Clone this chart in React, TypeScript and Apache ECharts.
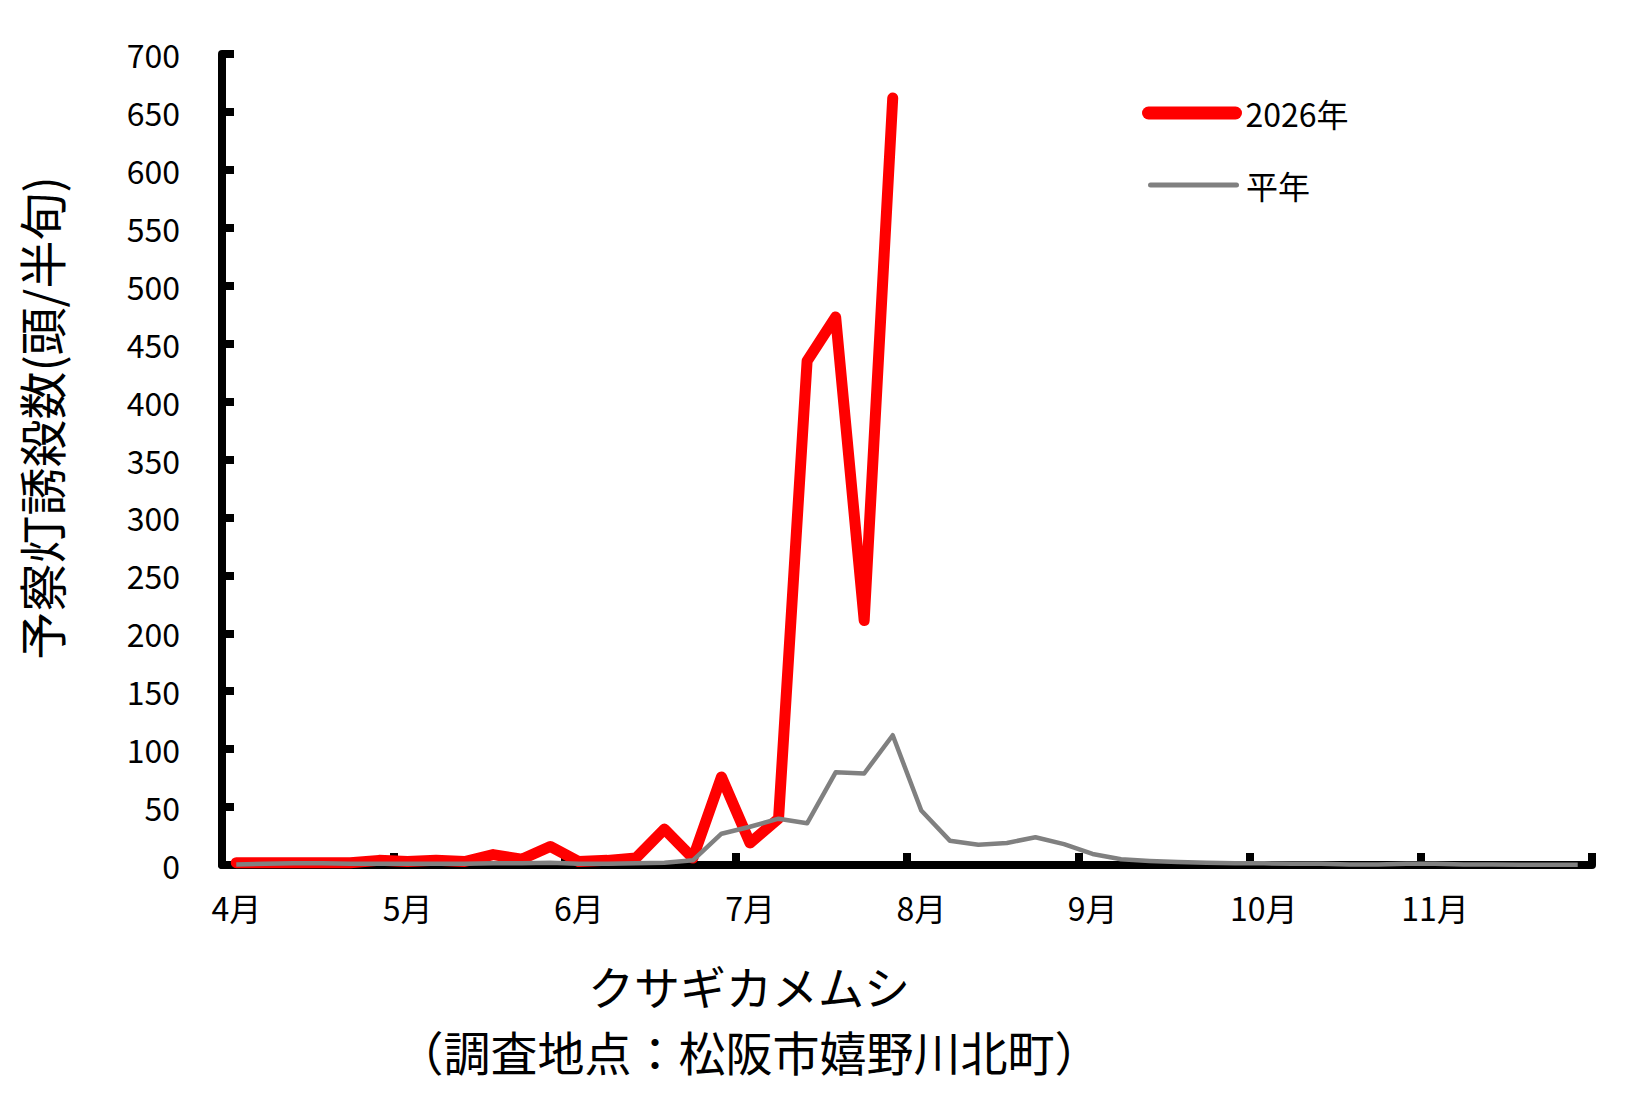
import React, { useEffect, useRef } from "react";
import * as echarts from "echarts";

const monthLabels = ["4月", "5月", "6月", "7月", "8月", "9月", "10月", "11月"];
const periodsPerMonth = 6;
const categories: string[] = monthLabels.flatMap((m) =>
  Array.from({ length: periodsPerMonth }, (_, k) => `${m}${k + 1}`)
);

const series2026Name = "2026年";
const seriesNormalName = "平年";

const values2026 = [
  2, 2, 2, 2, 2, 4, 3, 4, 3, 9, 5, 16,
  3, 4, 6, 31, 6, 76, 19, 40, 435, 473, 211, 662,
];

const valuesNormal = [
  0.5, 1, 1.5, 1.5, 1, 1, 1, 1, 1, 1.5, 1.5, 2,
  1, 1, 1.5, 2, 4, 27, 33, 40, 36, 80, 79, 112,
  47, 21, 17.5, 19, 24, 18, 9.5, 5, 3.5, 2.5, 2, 1.5,
  1.5, 1, 1, 0.5, 0.5, 1, 1, 0.5, 0.5, 0.3, 0.3, 0.3,
];

const yMin = 0;
const yMax = 700;
const yInterval = 50;

const yAxisTitle = "予察灯誘殺数(頭/半旬)";
const titleLine1 = "クサギカメムシ";
const titleLine2 = "（調査地点：松阪市嬉野川北町）";

const FONT = "'Noto Sans CJK JP', 'Noto Sans', sans-serif";

export default function App() {
  const ref = useRef<HTMLDivElement>(null);

  useEffect(() => {
    if (!ref.current) return;
    const chart = echarts.init(ref.current, undefined, { renderer: "svg" });
    const capsule = "path://M6.5,0 H93.5 A6.5,6.5 0 0 1 93.5,13 H6.5 A6.5,6.5 0 0 1 6.5,0 Z";
    chart.setOption({
      animation: false,
      backgroundColor: "#ffffff",
      textStyle: { fontFamily: FONT },
      grid: { left: 222, right: 58, top: 54, bottom: 252, containLabel: false },
      legend: [
        {
          data: [{ name: series2026Name, icon: capsule }],
          left: 1137,
          top: 92,
          itemWidth: 101,
          itemHeight: 13,
          itemGap: 0,
          textStyle: { fontSize: 32, color: "#000", fontFamily: FONT, padding: [0, 0, 0, -2] },
          selectedMode: false,
        },
        {
          data: [{ name: seriesNormalName, icon: "path://M2.5,0 H88.5 A2.5,2.5 0 0 1 88.5,5 H2.5 A2.5,2.5 0 0 1 2.5,0 Z" }],
          left: 1143,
          top: 164,
          itemWidth: 91,
          itemHeight: 5,
          itemGap: 0,
          textStyle: { fontSize: 32, color: "#000", fontFamily: FONT, padding: [0, 0, 0, 2] },
          selectedMode: false,
        },
      ],
      xAxis: {
        type: "category",
        data: categories,
        boundaryGap: true,
        axisLine: { lineStyle: { color: "#000", width: 8 } },
        axisTick: {
          show: true,
          inside: true,
          interval: periodsPerMonth - 1,
          length: 12,
          lineStyle: { color: "#000", width: 8 },
        },
        axisLabel: {
          interval: periodsPerMonth - 1,
          margin: 26,
          fontSize: 32,
          color: "#000",
          fontFamily: FONT,
          formatter: (v: string) => v.slice(0, v.indexOf("月") + 1),
        },
        splitLine: { show: false },
      },
      yAxis: {
        type: "value",
        min: yMin,
        max: yMax,
        interval: yInterval,
        axisLine: { show: true, lineStyle: { color: "#000", width: 8 } },
        axisTick: {
          show: true,
          inside: true,
          length: 12,
          lineStyle: { color: "#000", width: 8 },
        },
        axisLabel: { margin: 42, fontSize: 32, color: "#000", fontFamily: FONT },
        splitLine: { show: false },
      },
      graphic: [
        {
          type: "text",
          x: 40,
          y: 418,
          rotation: Math.PI / 2,
          style: {
            text: yAxisTitle,
            font: `48px ${FONT}`,
            fill: "#000",
            textAlign: "center",
            textVerticalAlign: "middle",
          },
        },
        {
          type: "text",
          x: 749,
          y: 985,
          style: {
            text: titleLine1,
            font: `46px ${FONT}`,
            fill: "#000",
            textAlign: "center",
            textVerticalAlign: "middle",
          },
        },
        {
          type: "text",
          x: 749,
          y: 1050,
          style: {
            text: titleLine2,
            font: `47px ${FONT}`,
            fill: "#000",
            textAlign: "center",
            textVerticalAlign: "middle",
          },
        },
      ],
      series: [
        {
          name: series2026Name,
          type: "line",
          data: values2026,
          symbol: "none",
          showSymbol: false,
          z: 2,
          itemStyle: { color: "#ff0000" },
          lineStyle: { color: "#ff0000", width: 11, cap: "round", join: "round" },
        },
        {
          name: seriesNormalName,
          type: "line",
          data: valuesNormal,
          symbol: "none",
          showSymbol: false,
          z: 3,
          itemStyle: { color: "#808080" },
          lineStyle: { color: "#808080", width: 4.5, join: "round" },
        },
      ],
    });
    return () => chart.dispose();
  }, []);

  return (
    <div
      ref={ref}
      style={{ position: "fixed", left: 0, top: 0, width: 1650, height: 1117, background: "#fff" }}
    />
  );
}
